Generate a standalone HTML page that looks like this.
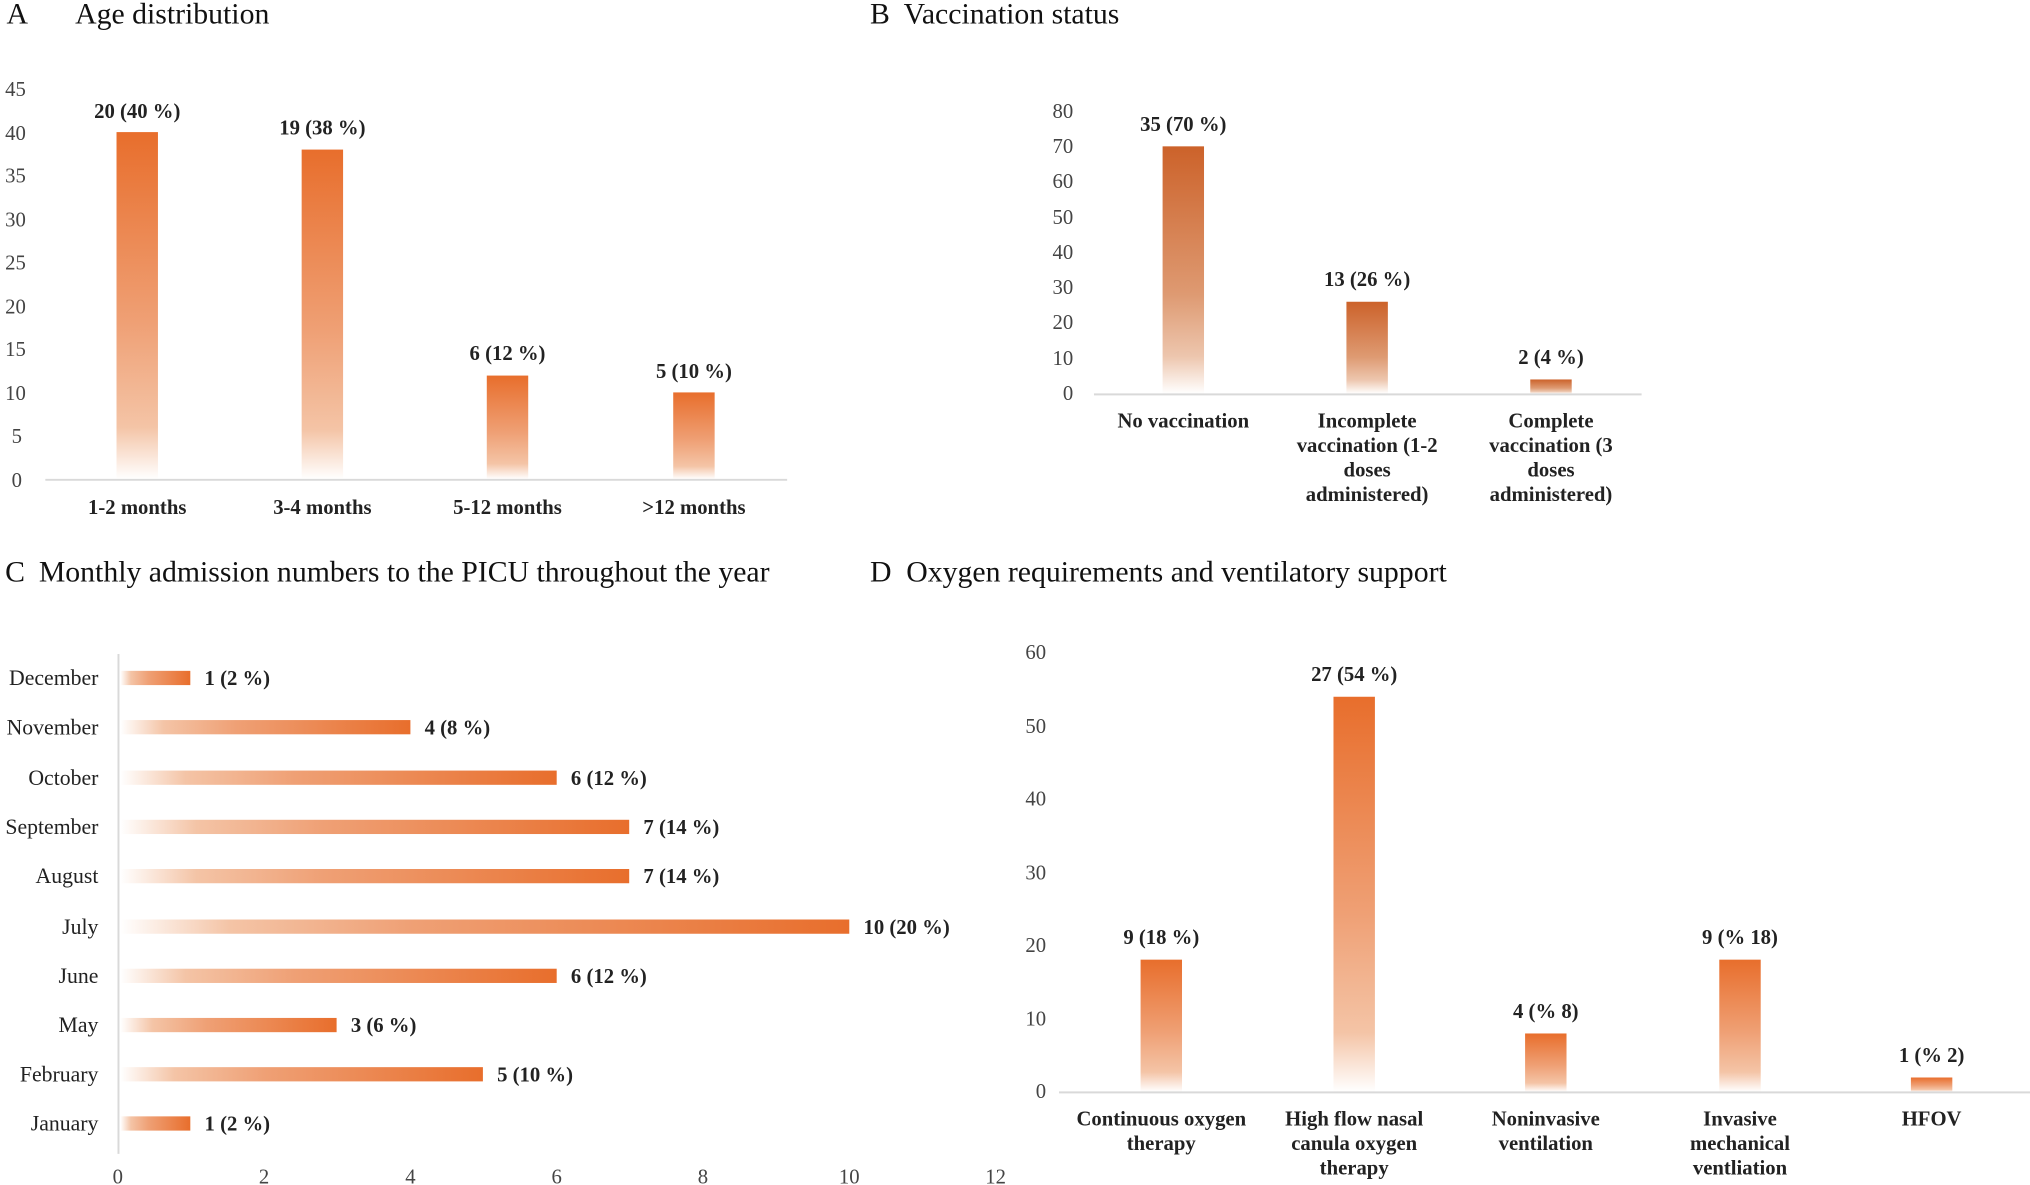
<!DOCTYPE html>
<html><head><meta charset="utf-8"><style>
html,body{margin:0;padding:0;background:#fff;}
svg{display:block;}
text{font-family:"Liberation Serif",serif;}
.t{font-size:23px;fill:#111;}
.tk{font-size:16px;fill:#444;}
.m{font-size:16.8px;fill:#222;}
.b{font-size:16px;font-weight:bold;fill:#222;}
</style></head><body>
<svg width="2030" height="1185" viewBox="0 0 1568 915" preserveAspectRatio="none" xmlns="http://www.w3.org/2000/svg">
<defs>
<linearGradient id="gv" x1="0" y1="0" x2="0" y2="1">
<stop offset="0" stop-color="#E86E2C"/><stop offset="0.55" stop-color="#EFA075"/><stop offset="0.85" stop-color="#F4C4A6"/><stop offset="1" stop-color="#FFFFFF"/></linearGradient>
<linearGradient id="gb" x1="0" y1="0" x2="0" y2="1">
<stop offset="0" stop-color="#CC622A"/><stop offset="0.6" stop-color="#DE9A72"/><stop offset="0.85" stop-color="#EDC6AE"/><stop offset="1" stop-color="#FFFFFF"/></linearGradient>
<linearGradient id="gh" x1="1" y1="0" x2="0" y2="0">
<stop offset="0" stop-color="#E86E2C"/><stop offset="0.6" stop-color="#EFA075"/><stop offset="0.85" stop-color="#F4C4A6"/><stop offset="1" stop-color="#FFFFFF"/></linearGradient>
</defs>

<text class="t" x="5" y="18">A</text><text class="t" x="58" y="18">Age distribution</text>
<text class="tk" x="4" y="74">45</text><text class="tk" x="4" y="108">40</text><text class="tk" x="4" y="141">35</text><text class="tk" x="4" y="175">30</text><text class="tk" x="4" y="208">25</text><text class="tk" x="4" y="242">20</text><text class="tk" x="4" y="275">15</text><text class="tk" x="4" y="309">10</text><text class="tk" x="9" y="342">5</text><text class="tk" x="9" y="376">0</text>
<rect x="90" y="102" width="32" height="268" fill="url(#gv)"/>
<rect x="233" y="115.5" width="32" height="254.5" fill="url(#gv)"/>
<rect x="376" y="290" width="32" height="80" fill="url(#gv)"/>
<rect x="520" y="303" width="32" height="67" fill="url(#gv)"/>
<line x1="35" y1="370.5" x2="608" y2="370.5" stroke="#d9d9d9" stroke-width="1.5"/>
<g text-anchor="middle">
<text class="b" x="106" y="91">20 (40 %)</text><text class="b" x="249" y="104">19 (38 %)</text><text class="b" x="392" y="278">6 (12 %)</text><text class="b" x="536" y="292">5 (10 %)</text>
<text class="b" x="106" y="397">1-2 months</text><text class="b" x="249" y="397">3-4 months</text><text class="b" x="392" y="397">5-12 months</text><text class="b" x="536" y="397">&gt;12 months</text>
</g>

<text class="t" x="672" y="18">B</text><text class="t" x="698" y="18">Vaccination status</text>
<g text-anchor="end">
<text class="tk" x="829" y="91">80</text><text class="tk" x="829" y="118">70</text><text class="tk" x="829" y="145">60</text><text class="tk" x="829" y="173">50</text><text class="tk" x="829" y="200">40</text><text class="tk" x="829" y="227">30</text><text class="tk" x="829" y="254">20</text><text class="tk" x="829" y="282">10</text><text class="tk" x="829" y="309">0</text>
</g>
<rect x="898" y="113" width="32" height="191" fill="url(#gb)"/>
<rect x="1040" y="233" width="32" height="71" fill="url(#gb)"/>
<rect x="1182" y="293" width="32" height="11" fill="url(#gb)"/>
<line x1="845" y1="304.5" x2="1268" y2="304.5" stroke="#d9d9d9" stroke-width="1.5"/>
<g text-anchor="middle">
<text class="b" x="914" y="101">35 (70 %)</text><text class="b" x="1056" y="221">13 (26 %)</text><text class="b" x="1198" y="281">2 (4 %)</text>
<text class="b" x="914" y="330">No vaccination</text>
<text class="b" x="1056" y="330">Incomplete</text><text class="b" x="1056" y="349">vaccination (1-2</text><text class="b" x="1056" y="368">doses</text><text class="b" x="1056" y="387">administered)</text>
<text class="b" x="1198" y="330">Complete</text><text class="b" x="1198" y="349">vaccination (3</text><text class="b" x="1198" y="368">doses</text><text class="b" x="1198" y="387">administered)</text>
</g>

<text class="t" x="4" y="449">C</text><text class="t" x="30" y="449">Monthly admission numbers to the PICU throughout the year</text>
<line x1="91.5" y1="505" x2="91.5" y2="891" stroke="#d9d9d9" stroke-width="1.5"/>
<g text-anchor="end">
<text class="m" x="76" y="529">December</text><text class="m" x="76" y="567">November</text><text class="m" x="76" y="606">October</text><text class="m" x="76" y="644">September</text><text class="m" x="76" y="682">August</text><text class="m" x="76" y="721">July</text><text class="m" x="76" y="759">June</text><text class="m" x="76" y="797">May</text><text class="m" x="76" y="835">February</text><text class="m" x="76" y="873">January</text>
</g>
<rect x="93" y="518" width="54" height="11" fill="url(#gh)"/>
<rect x="93" y="556" width="224" height="11" fill="url(#gh)"/>
<rect x="93" y="595" width="337" height="11" fill="url(#gh)"/>
<rect x="93" y="633" width="393" height="11" fill="url(#gh)"/>
<rect x="93" y="671" width="393" height="11" fill="url(#gh)"/>
<rect x="93" y="710" width="563" height="11" fill="url(#gh)"/>
<rect x="93" y="748" width="337" height="11" fill="url(#gh)"/>
<rect x="93" y="786" width="167" height="11" fill="url(#gh)"/>
<rect x="93" y="824" width="280" height="11" fill="url(#gh)"/>
<rect x="93" y="862" width="54" height="11" fill="url(#gh)"/>
<text class="b" x="158" y="529">1 (2 %)</text><text class="b" x="328" y="567">4 (8 %)</text><text class="b" x="441" y="606">6 (12 %)</text><text class="b" x="497" y="644">7 (14 %)</text><text class="b" x="497" y="682">7 (14 %)</text><text class="b" x="667" y="721">10 (20 %)</text><text class="b" x="441" y="759">6 (12 %)</text><text class="b" x="271" y="797">3 (6 %)</text><text class="b" x="384" y="835">5 (10 %)</text><text class="b" x="158" y="873">1 (2 %)</text>
<g text-anchor="middle">
<text class="tk" x="91" y="914">0</text><text class="tk" x="204" y="914">2</text><text class="tk" x="317" y="914">4</text><text class="tk" x="430" y="914">6</text><text class="tk" x="543" y="914">8</text><text class="tk" x="656" y="914">10</text><text class="tk" x="769" y="914">12</text>
</g>

<text class="t" x="672" y="449">D</text><text class="t" x="700" y="449">Oxygen requirements and ventilatory support</text>
<g text-anchor="end">
<text class="tk" x="808" y="509">60</text><text class="tk" x="808" y="566">50</text><text class="tk" x="808" y="622">40</text><text class="tk" x="808" y="679">30</text><text class="tk" x="808" y="735">20</text><text class="tk" x="808" y="792">10</text><text class="tk" x="808" y="848">0</text>
</g>
<rect x="881" y="741" width="32" height="102" fill="url(#gv)"/>
<rect x="1030" y="538" width="32" height="305" fill="url(#gv)"/>
<rect x="1178" y="798" width="32" height="45" fill="url(#gv)"/>
<rect x="1328" y="741" width="32" height="102" fill="url(#gv)"/>
<rect x="1476" y="832" width="32" height="11" fill="url(#gv)"/>
<line x1="818" y1="843.5" x2="1568" y2="843.5" stroke="#d9d9d9" stroke-width="1.5"/>
<g text-anchor="middle">
<text class="b" x="897" y="729">9 (18 %)</text><text class="b" x="1046" y="526">27 (54 %)</text><text class="b" x="1194" y="786">4 (% 8)</text><text class="b" x="1344" y="729">9 (% 18)</text><text class="b" x="1492" y="820">1 (% 2)</text>
<text class="b" x="897" y="869">Continuous oxygen</text><text class="b" x="897" y="888">therapy</text>
<text class="b" x="1046" y="869">High flow nasal</text><text class="b" x="1046" y="888">canula oxygen</text><text class="b" x="1046" y="907">therapy</text>
<text class="b" x="1194" y="869">Noninvasive</text><text class="b" x="1194" y="888">ventilation</text>
<text class="b" x="1344" y="869">Invasive</text><text class="b" x="1344" y="888">mechanical</text><text class="b" x="1344" y="907">ventliation</text>
<text class="b" x="1492" y="869">HFOV</text>
</g>
</svg>
</body></html>
